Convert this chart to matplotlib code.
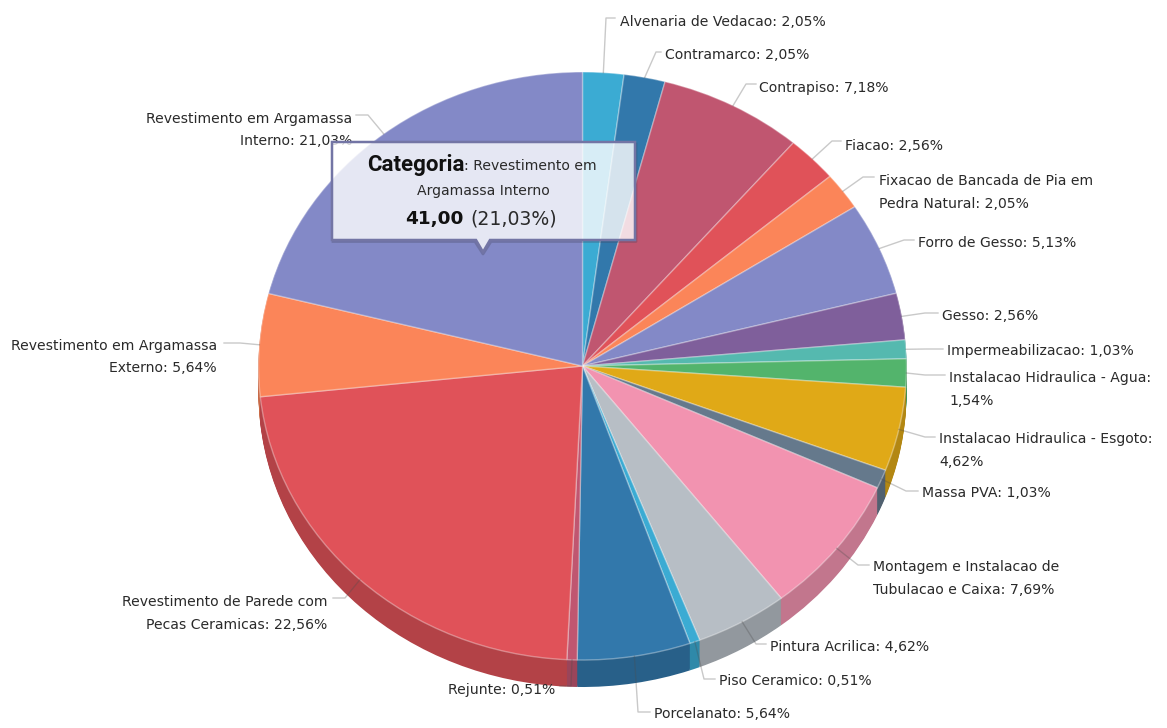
"""Pie chart of service shares with leader labels and a hover tooltip."""
import matplotlib
matplotlib.use('Agg')
import matplotlib.pyplot as plt
import matplotlib.colors as mcolors
from matplotlib.patches import Polygon
import numpy as np

values = [2.05, 2.05, 7.18, 2.56, 2.05, 5.13, 2.56, 1.03, 1.54, 4.62, 1.03, 7.69,
          4.62, 0.51, 5.64, 0.51, 22.56, 5.64, 21.03]
labels = [
    'Alvenaria de Vedacao: 2,05%',
    'Contramarco: 2,05%',
    'Contrapiso: 7,18%',
    'Fiacao: 2,56%',
    'Fixacao de Bancada de Pia em\nPedra Natural: 2,05%',
    'Forro de Gesso: 5,13%',
    'Gesso: 2,56%',
    'Impermeabilizacao: 1,03%',
    'Instalacao Hidraulica - Agua:\n1,54%',
    'Instalacao Hidraulica - Esgoto:\n4,62%',
    'Massa PVA: 1,03%',
    'Montagem e Instalacao de\nTubulacao e Caixa: 7,69%',
    'Pintura Acrilica: 4,62%',
    'Piso Ceramico: 0,51%',
    'Porcelanato: 5,64%',
    'Rejunte: 0,51%',
    'Revestimento de Parede com\nPecas Ceramicas: 22,56%',
    'Revestimento em Argamassa\nExterno: 5,64%',
    'Revestimento em Argamassa\nInterno: 21,03%',
]
colors = ['#3BABD3', '#3278AB', '#C05670', '#E05259', '#FB8559', '#8389C7', '#7F5F9B',
          '#55B9AF', '#53B46C', '#E0A917', '#65798C', '#F293B0', '#B7BEC5', '#3BABD3',
          '#3278AB', '#C05670', '#E05259', '#FB8559', '#8389C7']

W, H = 1167, 728
CX, CY, RX, RY, DEPTH = 582.5, 366, 324, 294, 27

# text x, text y, ha, elbow x, elbow y, end x (pixels)
layout = [
    (620, 22, 'left', 606, 18, 615),
    (665, 55, 'left', 656, 52, 661),
    (759, 88, 'left', 746, 84, 756),
    (845, 146, 'left', 832, 141, 841),
    (879, 192.5, 'left', 863, 177, 874),
    (918, 243, 'left', 904, 240, 914),
    (942, 316, 'left', 925, 313, 938),
    (947, 351, 'left', 926, 349, 943),
    (949, 389.5, 'left', 925, 375, 945),
    (939, 450.5, 'left', 925, 437, 935),
    (922, 493, 'left', 906, 491, 918),
    (873, 578.5, 'left', 858, 565, 869),
    (770, 647, 'left', 756, 644, 766),
    (719, 681, 'left', 704, 679, 715),
    (654, 714, 'left', 638, 712, 650),
    (555, 690, 'right', 571, 686, 560),
    (327, 613.5, 'right', 345, 598, 333),
    (217, 357, 'right', 240, 343, 224),
    (352, 130, 'right', 368, 115, 356),
]

fig = plt.figure(figsize=(W / 100, H / 100), dpi=100, facecolor='white')
plt.rcParams['font.family'] = 'DejaVu Sans'

# pie axes in unit radius, stretched into an ellipse
ax = fig.add_axes([0, 0, 1, 1])
dark = [tuple(c * 0.8 for c in mcolors.to_rgb(col)) for col in colors]
for d in np.arange(DEPTH, 0, -1.0):
    ax.pie(values, colors=dark, startangle=90, counterclock=False, radius=1,
           center=(0, -d / RY), frame=False, wedgeprops={'linewidth': 0})
ax.pie(values, colors=colors, startangle=90, counterclock=False, radius=1,
       center=(0, 0), frame=False,
       wedgeprops={'linewidth': 1, 'edgecolor': (1, 1, 1, 0.35)})
ax.set_aspect('auto')
ax.set_xlim((0 - CX) / RX, (W - CX) / RX)
ax.set_ylim((CY - H) / RY, CY / RY)
ax.axis('off')

# overlay in pixel coordinates for labels and tooltip
ov = fig.add_axes([0, 0, 1, 1], facecolor='none')
ov.set_xlim(0, W)
ov.set_ylim(H, 0)
ov.axis('off')

shares = np.array(values) / sum(values)
mids = (np.cumsum(shares) - shares / 2) * 2 * np.pi
for lab, ang, (tx, ty, ha, ex, ey, endx) in zip(labels, mids, layout):
    sx = CX + RX * np.sin(ang)
    sy = CY - RY * np.cos(ang)
    ov.plot([sx, ex, endx], [sy, ey, ey], color=(0.3, 0.3, 0.3, 0.3), lw=1, zorder=3)
    ov.text(tx, ty, lab, ha=ha, va='center', fontsize=10.1, color='#2a2a2a',
            linespacing=1.75, zorder=4, multialignment=ha)

# tooltip
box = [(332, 142), (635, 142), (635, 240), (490, 240), (483, 252), (476, 240), (332, 240)]
shadow = [(636, 144), (636, 241.5), (491, 241.5), (483, 254), (475, 241.5), (333, 241.5)]
ov.plot(*zip(*shadow), color=(0.25, 0.25, 0.35, 0.3), lw=2, zorder=5)
ov.add_patch(Polygon(box, closed=True, facecolor=(1, 1, 1, 0.8), edgecolor='#7375A5', lw=1.8, zorder=6))
ov.text(367, 165, 'Categoria', ha='left', va='center', fontsize=16, fontweight='bold',
        family='Roboto', color='#111111', zorder=7)
ov.text(464, 166, ': Revestimento em', ha='left', va='center', fontsize=10.1, color='#2a2a2a', zorder=7)
ov.text(483, 191, 'Argamassa Interno', ha='center', va='center', fontsize=10.1, color='#2a2a2a', zorder=7)
ov.text(464, 219, '41,00', ha='right', va='center', fontsize=13.3, fontweight='bold', color='#111111', zorder=7)
ov.text(470, 219, '(21,03%)', ha='left', va='center', fontsize=13.6, color='#2a2a2a', zorder=7)

fig.savefig('out.png', dpi=100, facecolor='white')
